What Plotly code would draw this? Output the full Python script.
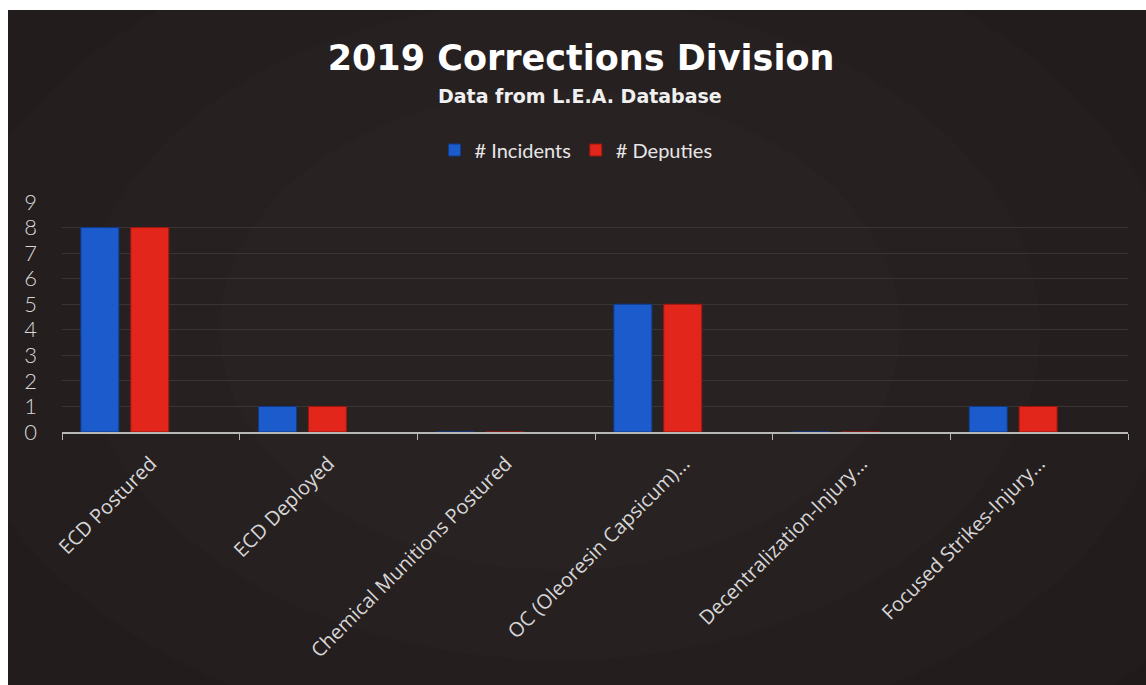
import plotly.graph_objects as go

categories = ["ECD Postured", "ECD Deployed", "Chemical Munitions Postured",
              "OC (Oleoresin Capsicum)...", "Decentralization-Injury...",
              "Focused Strikes-Injury..."]
incidents = [8, 1, 0, 5, 0, 1]
deputies = [8, 1, 0, 5, 0, 1]
y_ticks = [0, 1, 2, 3, 4, 5, 6, 7, 8, 9]

W, H = 1146, 685
L, R, T, B = 62, 18, 202, 253
pw, ph = W - L - R, H - T - B

def px_x(p):
    return (p - L) / pw

def px_y(p):
    return (H - B - p) / ph

fig = go.Figure()
fig.add_trace(go.Bar(
    x=categories, y=incidents, name="# Incidents",
    width=0.214, offset=-0.394,
    marker=dict(color="#1c5bcc", line=dict(color="#0f3a8a", width=1)),
))
fig.add_trace(go.Bar(
    x=categories, y=deputies, name="# Deputies",
    width=0.214, offset=-0.113,
    marker=dict(color="#e2261b", line=dict(color="#9a170f", width=1)),
))

shapes = []
# soft radial glow to mimic the gradient background
cx, cy = 560, 330
for rx, ry in [(900, 620), (760, 520), (620, 420), (480, 330), (340, 240)]:
    shapes.append(dict(
        type="circle", xref="paper", yref="paper", layer="below",
        x0=px_x(cx - rx), x1=px_x(cx + rx), y0=px_y(cy + ry), y1=px_y(cy - ry),
        fillcolor="rgba(70,52,52,0.09)", line=dict(width=0),
    ))
# white scan borders
shapes.append(dict(type="rect", xref="paper", yref="paper", layer="above",
                   x0=px_x(-5), x1=px_x(W + 5), y0=px_y(10), y1=px_y(-5),
                   fillcolor="white", line=dict(width=0)))
shapes.append(dict(type="rect", xref="paper", yref="paper", layer="above",
                   x0=px_x(-5), x1=px_x(8), y0=px_y(H + 5), y1=px_y(-5),
                   fillcolor="white", line=dict(width=0)))

fig.update_layout(
    width=W, height=H,
    margin=dict(l=L, r=R, t=T, b=B),
    paper_bgcolor="#1d1819",
    plot_bgcolor="rgba(0,0,0,0)",
    barmode="overlay",
    shapes=shapes,
    title=dict(
        text="<b>2019 Corrections Division</b>",
        x=581 / W, xanchor="center", y=1 - 58 / H, yanchor="middle",
        font=dict(family="DejaVu Sans", size=35, color="white"),
    ),
    annotations=[dict(
        text="<b>Data from L.E.A. Database</b>",
        xref="paper", yref="paper", x=px_x(580), y=px_y(96),
        xanchor="center", yanchor="middle", showarrow=False,
        font=dict(family="DejaVu Sans", size=19, color="#f0f0f0"),
    )],
    legend=dict(
        orientation="h", x=px_x(576), xanchor="center", y=px_y(150), yanchor="middle",
        font=dict(family="Lato", size=20, color="#e6e6e6"),
        bgcolor="rgba(0,0,0,0)", itemwidth=30, traceorder="normal",
    ),
    xaxis=dict(
        type="category", range=[-0.5, 5.5],
        showgrid=False, showline=True, linecolor="#b8b8b8", linewidth=2,
        ticks="outside", tickson="boundaries", ticklen=6, tickcolor="#b8b8b8",
        tickangle=-45, ticklabelstandoff=10,
        tickfont=dict(family="Open Sans", size=20, color="#d6d6d6"),
    ),
    yaxis=dict(
        range=[0, 9], tickvals=y_ticks, showgrid=True,
        gridcolor="#3a3434", gridwidth=1, zeroline=False,
        showline=False, ticks="", ticklabelstandoff=24,
        tickfont=dict(family="Lato", size=22, color="#d8d8d8", weight=300),
    ),
    showlegend=True,
)

fig.write_html("out.html")
